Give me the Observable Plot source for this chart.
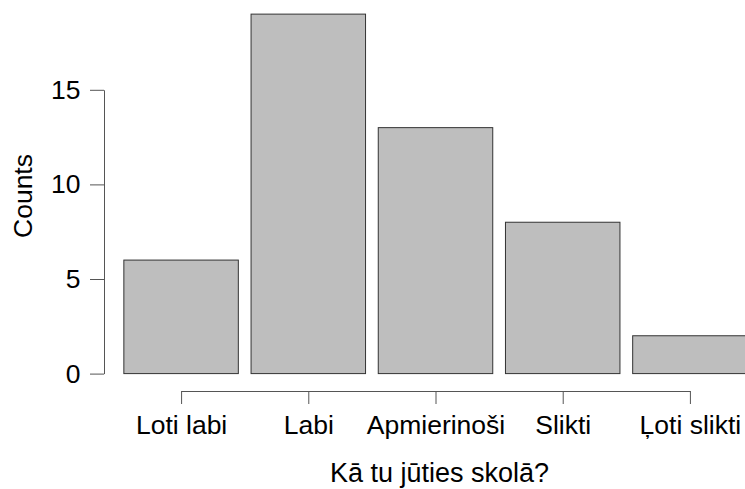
<!DOCTYPE html>
<html>
<head>
<meta charset="utf-8">
<script src="https://cdn.jsdelivr.net/npm/d3@7"></script>
<script src="https://cdn.jsdelivr.net/npm/@observablehq/plot@0.6"></script>
<style>
  html, body { margin: 0; padding: 0; background: #ffffff; }
  #chart { width: 745px; height: 489px; overflow: hidden; }
</style>
</head>
<body>
<div id="chart"></div>
<script>
// ---- data ----
const categories = ["Loti labi", "Labi", "Apmierinoši", "Slikti", "Ļoti slikti"];
const counts = [6, 19, 13, 8, 2];
const yTicks = [0, 5, 10, 15];
const xTitle = "Kā tu jūties skolā?";
const yTitle = "Counts";

const data = categories.map((c, i) => ({i, category: c, count: counts[i]}));
const tickIdx = categories.map((c, i) => i);

const barHalf = 0.45; // bar half-width in category step units

// custom axis lines (drawn through the plot's own scales)
const axisLines = (index, scales, values, dimensions) => {
  const {marginLeft, height, marginBottom} = dimensions;
  const g = d3.create("svg:g").attr("stroke", "#555").attr("stroke-width", 1).attr("fill", "none");
  const yb = height - marginBottom + 0.5;
  g.append("line")
    .attr("x1", scales.x(tickIdx[0]) + 0.5).attr("x2", scales.x(tickIdx[tickIdx.length - 1]) + 0.5)
    .attr("y1", yb).attr("y2", yb);
  g.append("line")
    .attr("x1", marginLeft + 0.5).attr("x2", marginLeft + 0.5)
    .attr("y1", scales.y(yTicks[0]) + 0.5).attr("y2", scales.y(yTicks[yTicks.length - 1]) + 0.5);
  return g.node();
};

const plot = Plot.plot({
  width: 745,
  height: 489,
  marginLeft: 104,
  marginRight: 0,
  marginTop: 0,
  marginBottom: 98,
  style: {fontFamily: "'Liberation Sans', Arial, Helvetica, sans-serif", fontSize: "26.5px", background: "#ffffff", color: "black"},
  x: {type: "linear", domain: [-0.606, 4.433]},
  y: {domain: [0, 15], range: [373.6, 89.8]},
  marks: [
    Plot.rectY(data, {x1: d => d.i - barHalf, x2: d => d.i + barHalf, y: "count", fill: "#bebebe", stroke: "#333", strokeWidth: 1}),
    axisLines,
    Plot.axisX({ticks: tickIdx, tickFormat: i => categories[i], tickSize: 13, tickPadding: 11, stroke: "#555", fill: "black", fontSize: 26.5, label: null}),
    Plot.axisY({ticks: yTicks, tickFormat: d => String(d), tickSize: 14, tickPadding: 10, stroke: "#555", fill: "black", fontSize: 26.5, label: null}),
    Plot.text([yTitle], {frameAnchor: "left", textAnchor: "middle", lineAnchor: "middle", rotate: -90, dx: -81, fontSize: 26.5, fill: "black"}),
    Plot.text([xTitle], {frameAnchor: "bottom", textAnchor: "middle", lineAnchor: "middle", dx: 14.5, dy: 81.5, fontSize: 27, fill: "black"})
  ]
});
document.getElementById("chart").appendChild(plot);
</script>
</body>
</html>
